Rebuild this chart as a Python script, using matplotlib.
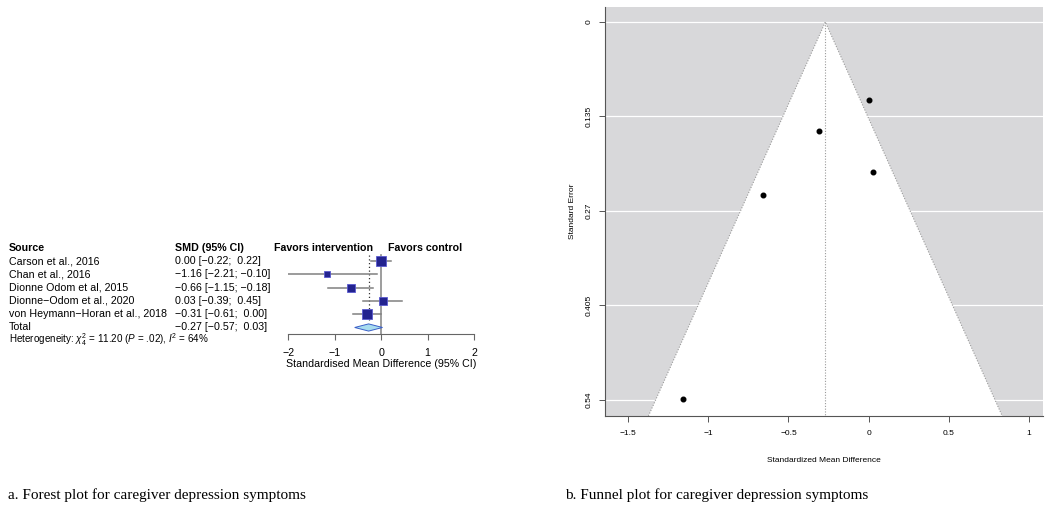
# -*- coding: utf-8 -*-
"""
Forest plot and funnel plot, caregiver depression symptoms
"""

### load modules
import numpy as np
import matplotlib.pyplot as plt
import matplotlib.transforms as mtransforms
from matplotlib.patches import Polygon

### data
studies  = ['Carson et al., 2016', 'Chan et al., 2016', 'Dionne Odom et al, 2015',
            'Dionne\u2212Odom et al., 2020', 'von Heymann\u2212Horan et al., 2018']
smd      = [0.00, -1.16, -0.66, 0.03, -0.31]
ci_lo    = [-0.22, -2.21, -1.15, -0.39, -0.61]
ci_hi    = [0.22, -0.10, -0.18, 0.45, 0.00]
weights  = [29.3, 6.5, 18.1, 20.6, 25.5]
se       = [0.112, 0.538, 0.247, 0.214, 0.156]
pooled   = -0.27
pooled_lo = -0.57
pooled_hi = 0.03
hetero   = r'Heterogeneity: $\chi^2_4$ = 11.20 ($P$ = .02), $I^2$ = 64%'
forest_ticks = [-2, -1, 0, 1, 2]
funnel_xticks = [-1.5, -1, -0.5, 0, 0.5, 1]
funnel_yticks = [0, 0.135, 0.27, 0.405, 0.54]

### fonts
plt.rcParams['font.family'] = 'Liberation Sans'
plt.rcParams['mathtext.fontset'] = 'custom'
plt.rcParams['mathtext.rm'] = 'Liberation Sans'
plt.rcParams['mathtext.it'] = 'Liberation Sans:italic'

W, H = 1050, 509
fig = plt.figure(figsize=(W/100, H/100), dpi=100)

def fx(px):
    return px / W

def fy(py):
    return 1 - py / H

### forest plot
ax1 = fig.add_axes([fx(288.3), fy(334), fx(474) - fx(288.3), fy(240) - fy(334)])
ax1.set_xlim(-2, 2)
ax1.set_ylim(5.49, -1.58)
n = len(studies)
rows = np.arange(n)

ax1.plot([0, 0], [-0.45, 5.49], color='#8c8c8c', linewidth=1.2, zorder=1)
ax1.plot([pooled, pooled], [-0.45, 4.6], color='#333333', linestyle=(0, (1, 2)), linewidth=0.9, zorder=1)
for i in range(n):
    ax1.plot([ci_lo[i], ci_hi[i]], [rows[i], rows[i]], color='#808080', linewidth=1.1, zorder=2)
    side = 0.72 * 1.977 * np.sqrt(weights[i])
    ax1.plot(smd[i], rows[i], marker='s', markersize=side, markerfacecolor='#23238f',
             markeredgecolor='#5a5ad0', markeredgewidth=0.6, zorder=3)

dh = 0.27
diamond = Polygon([[pooled_lo, n], [pooled, n - dh], [pooled_hi, n], [pooled, n + dh]],
                  closed=True, facecolor='#a8dcef', edgecolor='#3a5fc8', linewidth=0.7, zorder=3)
ax1.add_patch(diamond)

for s in ['top', 'right', 'left']:
    ax1.spines[s].set_visible(False)
ax1.spines['bottom'].set_color('#666666')
ax1.spines['bottom'].set_bounds(-2, 2)
ax1.set_yticks([])
ax1.set_xticks(forest_ticks)
ax1.set_xticklabels(['\u22122', '\u22121', '0', '1', '2'])
ax1.tick_params(axis='x', length=4, width=0.8, color='#666666', labelsize=7.7, pad=6)
ax1.set_xlabel('Standardised Mean Difference (95% CI)', fontsize=7.7, labelpad=1)
ax1.patch.set_alpha(0)

# text columns
tr = mtransforms.blended_transform_factory(fig.transFigure, ax1.transData)
ax1.text(fx(9), -1, 'Source', transform=tr, fontsize=7.7, fontweight='bold', va='center')
ax1.text(fx(175), -1, 'SMD (95% CI)', transform=tr, fontsize=7.7, fontweight='bold', va='center')
ax1.text(fx(323), -1, 'Favors intervention', transform=tr, fontsize=7.7, fontweight='bold', va='center', ha='center')
ax1.text(fx(425.5), -1, 'Favors control', transform=tr, fontsize=7.7, fontweight='bold', va='center', ha='center')

def fmt(v):
    return ('%.2f' % v).replace('-', '\u2212')

def fmt_ci(lo, hi):
    s = fmt(hi)
    sep = '; ' if s.startswith('\u2212') else ';  '
    return '[' + fmt(lo) + sep + s + ']'

for i in range(n):
    ax1.text(fx(9), rows[i], studies[i], transform=tr, fontsize=7.7, va='center')
    ax1.text(fx(175), rows[i], fmt(smd[i]) + ' ' + fmt_ci(ci_lo[i], ci_hi[i]),
             transform=tr, fontsize=7.7, va='center')
ax1.text(fx(9), n, 'Total', transform=tr, fontsize=7.7, va='center')
ax1.text(fx(175), n, fmt(pooled) + ' ' + fmt_ci(pooled_lo, pooled_hi),
         transform=tr, fontsize=7.7, va='center')
fig.text(fx(9), fy(339.5), hetero, fontsize=7.1, va='center')

### funnel plot
ax2 = fig.add_axes([fx(605), fy(416), fx(1043) - fx(605), fy(7) - fy(416)])
se_max = 0.5629
ax2.set_xlim(-1.644, 1.0875)
ax2.set_ylim(se_max, -0.0214)
ax2.set_facecolor('#d8d8da')
for yt in funnel_yticks:
    ax2.axhline(yt, color='white', linewidth=0.9, zorder=1)

x_left = pooled - 1.96 * se_max
x_right = pooled + 1.96 * se_max
funnel = Polygon([[x_left, se_max], [pooled, 0], [x_right, se_max]], closed=True,
                 facecolor='white', edgecolor='none', zorder=2)
ax2.add_patch(funnel)
ax2.plot([x_left, pooled, x_right], [se_max, 0, se_max], color='#9a9a9a',
         linestyle=(0, (1, 1.5)), linewidth=0.8, zorder=3)
ax2.plot([pooled, pooled], [0, se_max], color='#9a9a9a', linestyle=(0, (1, 1.5)), linewidth=0.8, zorder=3)
ax2.plot(smd, se, linestyle='none', marker='o', markersize=3.3, color='black', zorder=4)

for s in ['top', 'right']:
    ax2.spines[s].set_visible(False)
for s in ['left', 'bottom']:
    ax2.spines[s].set_color('#555555')
    ax2.spines[s].set_linewidth(0.8)
ax2.set_xticks(funnel_xticks)
ax2.set_xticklabels(['\u22121.5', '\u22121', '\u22120.5', '0', '0.5', '1'])
ax2.set_yticks(funnel_yticks)
ax2.set_yticklabels(['0', '0.135', '0.27', '0.405', '0.54'], rotation=90, va='center')
ax2.tick_params(axis='both', length=4, width=0.7, color='#555555', labelsize=6.0)
ax2.tick_params(axis='x', pad=6)
ax2.tick_params(axis='y', pad=5)
ax2.set_xlabel('Standardized Mean Difference', fontsize=6.0, va='center')
ax2.xaxis.set_label_coords(0.5, (416 - 461) / 409.0)
ax2.set_ylabel('Standard Error', fontsize=6.0, va='center')
ax2.yaxis.set_label_coords((572 - 605) / 438.0, 0.5)

### captions
fig.text(fx(8), fy(495), 'a. Forest plot for caregiver depression symptoms',
         fontsize=11, family='Liberation Serif', va='center')
fig.text(fx(565), fy(495), 'b. Funnel plot for caregiver depression symptoms',
         fontsize=11, family='Liberation Serif', va='center')

fig.savefig('out.png', dpi=100)
